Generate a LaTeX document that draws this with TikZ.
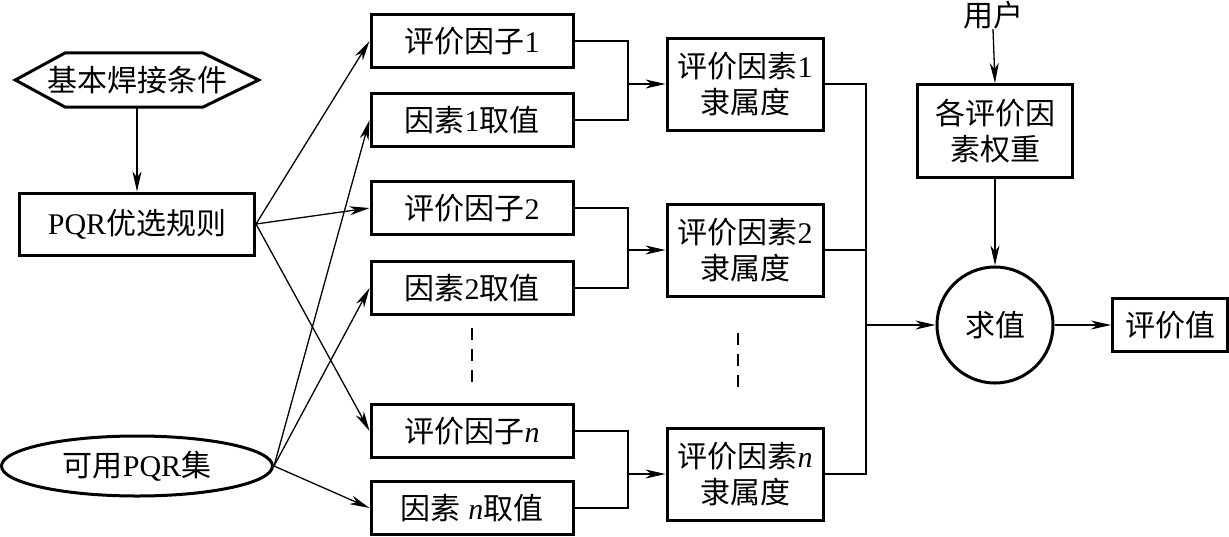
\documentclass[tikz,border=0pt]{standalone}
\usepackage{fontspec}
\setmainfont{Liberation Serif}
\newfontfamily\cjk{Noto Sans CJK SC}
\newcommand{\zh}[1]{{\cjk #1}}
\usetikzlibrary{arrows.meta,shapes.geometric}
\begin{document}
\begin{tikzpicture}[x=1pt,y=-1pt,
    every node/.style={font=\fontsize{30}{36}\selectfont,inner sep=0pt},
    box/.style={draw,line width=3pt,minimum width=202pt,minimum height=53pt},
    tallbox/.style={box,minimum width=156pt,minimum height=92pt,align=center},
    link/.style={line width=1.3pt},
    arr/.style={link,-{Stealth[length=20pt,width=9pt,inset=6pt]}}]
  \useasboundingbox (0,0) rectangle (1229,536);
  \node[minimum width=243pt,minimum height=54pt] (cond) at (137,80) {\zh{基本焊接条件}};
  \draw[line width=3pt] (cond.west) -- ([xshift=50pt]cond.north west) -- ([xshift=-56pt]cond.north east)
     -- (cond.east) -- ([xshift=-56pt]cond.south east) -- ([xshift=50pt]cond.south west) -- cycle;
  \node[box,minimum width=235pt,minimum height=62pt] (rule) at (137,224) {PQR\zh{优选规则}};
  \node[draw,ellipse,line width=3pt,minimum width=271pt,minimum height=60pt] (pqrset) at (137,466) {\zh{可用}PQR\zh{集}};
  \node[box] (fac1) at (472,41) {\zh{评价因子}1};
  \node[box] (val1) at (472,120) {\zh{因素}1\zh{取值}};
  \node[box] (fac2) at (472,208) {\zh{评价因子}2};
  \node[box] (val2) at (472,288) {\zh{因素}2\zh{取值}};
  \node[box] (facn) at (472,431) {\zh{评价因子}\textit{n}};
  \node[box] (valn) at (472,508) {\zh{因素} \textit{n}\zh{取值}};
  \node[tallbox] (mem1) at (745,84) {\zh{评价因素}1\\\zh{隶属度}};
  \node[tallbox] (mem2) at (745,250) {\zh{评价因素}2\\\zh{隶属度}};
  \node[tallbox] (memn) at (745,474) {\zh{评价因素}\textit{n}\\\zh{隶属度}};
  \node (user) at (993,15) {\zh{用户}};
  \node[tallbox,minimum width=155pt,minimum height=93pt] (weight) at (995,131) {\zh{各评价因}\\\zh{素权重}};
  \node[draw,circle,line width=3pt,minimum size=116pt] (calc) at (995,325) {\zh{求值}};
  \node[box,minimum width=115pt] (result) at (1170,325) {\zh{评价值}};
  \coordinate (k1) at (628,84);
  \coordinate (k2) at (628,250);
  \coordinate (kn) at (628,474);
  \coordinate (bus) at (866,325);
  \draw[arr] (cond.south) -- (rule.north);
  \draw[arr] (rule.east) -- (fac1.west);
  \draw[arr] (rule.east) -- (fac2.west);
  \draw[arr] (rule.east) -- (facn.west);
  \draw[arr] (pqrset.east) -- (val1.west);
  \draw[arr] (pqrset.east) -- (val2.west);
  \draw[arr] (pqrset.east) -- (valn.west);
  \draw[link] (fac1.east) -| (k1) |- (val1.east);
  \draw[link] (fac2.east) -| (k2) |- (val2.east);
  \draw[link] (facn.east) -| (kn) |- (valn.east);
  \draw[arr] (k1) -- (mem1.west);
  \draw[arr] (k2) -- (mem2.west);
  \draw[arr] (kn) -- (memn.west);
  \draw[link] (mem1.east) -| (bus) |- (memn.east);
  \draw[link] (mem2.east) -- (mem2.east -| bus);
  \draw[arr] (bus) -- (calc.west);
  \draw[arr] (user.south) -- (weight.north);
  \draw[arr] (weight.south) -- (calc.north);
  \draw[arr] (calc.east) -- (result.west);
  \draw[link,dash pattern=on 12pt off 9pt] (472,328) -- (472,384);
  \draw[link,dash pattern=on 12pt off 9pt] (738,333) -- (738,389);
\end{tikzpicture}
\end{document}
